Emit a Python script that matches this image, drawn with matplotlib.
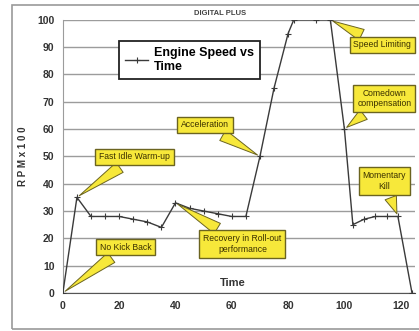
import matplotlib.pyplot as plt
from matplotlib.patches import Rectangle

plt.rcParams['font.family'] = ['Liberation Sans', 'DejaVu Sans']

time = [0, 5, 10, 15, 20, 25, 30, 35, 40, 45, 50, 55, 60, 65, 70, 75, 80, 82,
        90, 95, 100, 103, 107, 111, 115, 119, 124]
rpm = [0, 35, 28, 28, 28, 27, 26, 24, 33, 31, 30, 29, 28, 28, 50, 75, 95, 100,
       100, 100, 60, 25, 27, 28, 28, 28, 0]

notes = ['Fast Idle Warm-up', 'No Kick Back', 'Acceleration',
         'Recovery in Roll-out\nperformance', 'Speed Limiting',
         'Comedown\ncompensation', 'Momentary\nKill']
note_at = [(5, 35), (0, 0), (70, 50), (40, 33), (95, 100), (100, 60), (119, 28)]
note_text = [(25.5, 49.8), (22.3, 16.8), (50.4, 61.5), (63.8, 17.9),
             (113.5, 90.8), (114.2, 71.1), (114.2, 41)]

fig = plt.figure(figsize=(4.19, 3.31), dpi=100)
ax = fig.add_axes([0.150, 0.115, 0.840, 0.825])

# outer chart frame
fig.patches.append(Rectangle((12 / 419, 2 / 331), 1.2, 1 - 7 / 331,
                             transform=fig.transFigure, fill=False,
                             ec='#9a9a9a', lw=1.2))

ax.plot(time, rpm, color='#3a3a3a', lw=1.0, marker='+', ms=4, mew=0.8,
        label='Engine Speed vs\nTime', zorder=3)

ax.set_xlim(0, 125)
ax.set_ylim(0, 100)
ax.set_xticks(range(0, 121, 20))
ax.set_yticks(range(0, 101, 10))
ax.yaxis.grid(True, color='#9c9c9c', lw=1.0)
for s in ['top', 'right']:
    ax.spines[s].set_visible(False)
ax.spines['left'].set_color('#9c9c9c')
ax.spines['bottom'].set_color('#555555')
ax.tick_params(length=0, labelsize=7.5, pad=6)
for lab in ax.get_xticklabels() + ax.get_yticklabels():
    lab.set_fontweight('bold')
    lab.set_color('#333333')

ax.set_ylabel('R P M x 1 0 0', fontsize=7, fontweight='bold', color='#333333',
              labelpad=7)
ax.text(60.5, 3.5, 'Time', ha='center', va='center', fontsize=8,
        fontweight='bold', color='#333333')
fig.text(0.525, 0.96, 'DIGITAL PLUS', ha='center', va='center', fontsize=5.5,
         fontweight='bold', color='#444444')

leg = ax.legend(loc='upper left', bbox_to_anchor=(0.142, 0.945),
                handlelength=1.8, handletextpad=0.5, borderpad=0.5,
                fancybox=False, framealpha=1, prop={'weight': 'bold', 'size': 9})
leg.get_frame().set_edgecolor('#222222')
leg.get_frame().set_linewidth(1.3)

for txt, xy, xyt in zip(notes, note_at, note_text):
    ax.annotate(txt, xy=xy, xytext=xyt, ha='center', va='center', fontsize=6.2,
                color='#3a3000', annotation_clip=False, zorder=4,
                bbox=dict(boxstyle='square,pad=0.45', fc='#f7e83a', ec='#6b6420',
                          lw=1.0),
                arrowprops=dict(arrowstyle='wedge,tail_width=1.4,shrink_factor=0.5',
                                fc='#f7e83a', ec='#6b6420', lw=0.7))

fig.savefig('out.png', dpi=100)
